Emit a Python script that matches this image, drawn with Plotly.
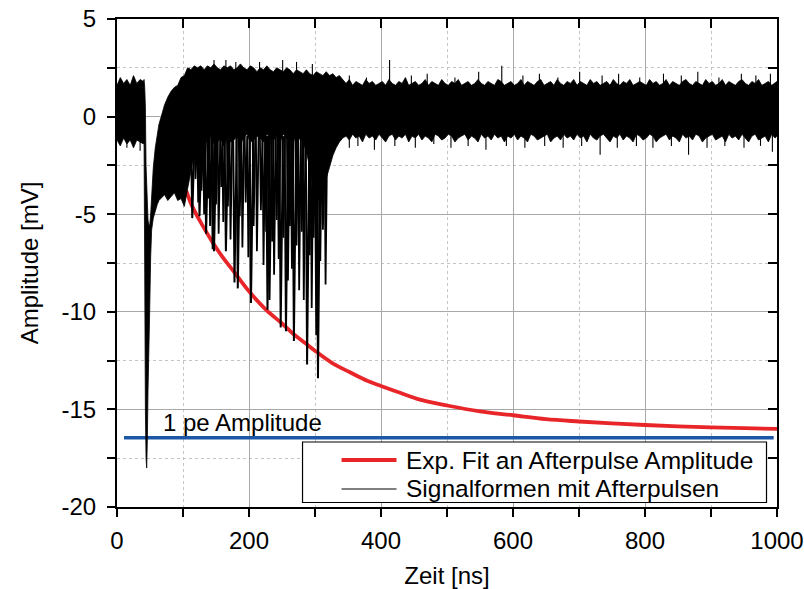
import plotly.graph_objects as go

# ---------------- data ----------------
# envelope of the overlaid waveforms (upper / lower edge of the black band)
t_pre = [0, 5, 10, 15, 20, 25, 30, 35, 40]
u_pre = [1.6, 2.0, 1.7, 1.9, 1.6, 2.1, 1.7, 1.9, 1.8]
l_pre = [-1.2, -1.5, -1.1, -1.4, -1.2, -1.6, -1.2, -1.3, -1.4]

t_pulse = [41, 42, 43, 44, 45, 46, 47, 48, 49.5, 51, 52.5, 55, 58, 61, 63.5]
u_pulse = [1.9, 1.5, 0.5, -2.5, -4.0, -4.8, -5.3, -5.5, -5.6, -5.0, -4.0,
           -2.6, -1.6, -0.9, -0.4]
l_pulse = [-1.3, -8.0, -15.0, -17.5, -18.0, -16.5, -14.0, -12.0, -10.0, -7.2,
           -5.8, -5.2, -4.8, -4.5, -4.3]

t_rec = [67, 72, 77, 82, 87, 92, 97, 102, 107, 112, 117]
u_rec = [0.0, 0.6, 1.0, 1.3, 1.5, 1.6, 2.0, 2.1, 2.5, 2.4, 2.6]
l_rec = [-4.2, -4.0, -4.3, -4.1, -3.9, -4.3, -4.2, -4.6, -3.8, -2.8, -1.9]

t_ap = list(range(122, 343, 5))
u_ap = [2.5, 2.6, 2.4, 2.6, 2.5, 2.7, 2.5, 2.4, 2.6, 2.5,
        2.6, 2.4, 2.5, 2.7, 2.5, 2.4, 2.6, 2.5, 2.3, 2.5,
        2.4, 2.6, 2.4, 2.3, 2.5, 2.4, 2.3, 2.5, 2.4, 2.2,
        2.4, 2.3, 2.2, 2.4, 2.2, 2.1, 2.3, 2.2, 2.1, 2.3,
        2.1, 2.2, 2.0, 2.1, 1.9]
l_ap = [-1.4, -1.1, -1.5, -1.2, -1.0, -1.4, -1.3, -1.1, -1.5, -1.0,
        -1.3, -1.2, -1.0, -1.4, -1.1, -0.9, -1.3, -1.2, -1.0, -1.1,
        -1.3, -0.9, -1.1, -1.2, -1.0, -1.3, -0.9, -1.1, -1.2, -1.0,
        -1.4, -1.1, -1.3, -1.8, -2.6, -3.4, -4.0, -4.3, -3.8, -3.2,
        -2.6, -2.0, -1.6, -1.3, -1.1]

t_tail = list(range(347, 1001, 5)) + [1000]
u_tail = [1.7, 1.9, 1.6, 1.8, 1.7, 1.6, 1.9, 1.7, 1.8, 1.6,
          1.7, 1.8, 1.6, 1.9, 1.7, 1.6, 1.8, 1.7, 2.0, 1.6,
          1.7, 1.8, 1.6, 1.7, 1.9, 1.6, 1.8, 1.7, 1.6, 1.9,
          1.7, 1.6, 1.8, 1.7, 1.9, 1.6, 1.7, 1.8, 1.6, 1.7,
          1.9, 1.7, 1.6, 1.8, 1.7, 1.6, 1.9, 1.8, 1.6, 1.7,
          1.8, 1.6, 1.7, 1.9, 1.6, 1.8, 1.7, 1.6, 1.8, 1.9,
          1.6, 1.7, 1.8, 1.6, 1.9, 1.7, 1.6, 1.8, 1.7, 1.9,
          1.6, 1.8, 1.7, 1.6, 1.9, 1.7, 1.8, 1.6, 1.7, 1.8,
          1.6, 1.9, 1.7, 1.6, 1.8, 1.7, 1.9, 1.6, 1.7, 1.8,
          1.7, 1.6, 1.9, 1.7, 1.8, 1.6, 1.7, 1.9, 1.6, 1.8,
          1.7, 1.6, 1.8, 1.9, 1.7, 1.6, 1.8, 1.7, 1.6, 1.9,
          1.7, 1.8, 1.6, 1.7, 1.9, 1.6, 1.8, 1.7, 1.6, 1.8,
          1.9, 1.7, 1.6, 1.8, 1.7, 1.9, 1.6, 1.7, 1.8, 1.6,
          1.7, 1.8]
l_tail = [-1.0, -1.2, -0.9, -1.1, -1.0, -1.3, -0.9, -1.1, -1.0, -1.2,
          -0.9, -1.1, -1.3, -1.0, -0.9, -1.2, -1.0, -1.1, -0.9, -1.3,
          -1.0, -1.1, -0.9, -1.2, -1.0, -1.1, -1.3, -0.9, -1.0, -1.2,
          -1.1, -0.9, -1.0, -1.3, -1.1, -1.0, -0.9, -1.2, -1.0, -1.1,
          -1.3, -0.9, -1.1, -1.0, -1.2, -0.9, -1.1, -1.0, -1.3, -1.0,
          -1.1, -0.9, -1.2, -1.0, -1.1, -1.3, -0.9, -1.0, -1.2, -1.1,
          -1.0, -0.9, -1.3, -1.1, -1.0, -1.2, -0.9, -1.1, -1.0, -1.2,
          -0.9, -1.1, -1.0, -1.3, -0.9, -1.1, -1.2, -1.0, -0.9, -1.1,
          -1.3, -1.0, -1.1, -0.9, -1.2, -1.0, -1.1, -1.3, -0.9, -1.0,
          -1.2, -1.1, -0.9, -1.0, -1.3, -1.1, -1.0, -0.9, -1.2, -1.0,
          -1.1, -1.3, -0.9, -1.1, -1.0, -1.2, -0.9, -1.0, -1.3, -1.1,
          -1.0, -0.9, -1.2, -1.1, -1.0, -1.3, -0.9, -1.1, -1.0, -1.2,
          -0.9, -1.1, -1.3, -1.0, -0.9, -1.2, -1.1, -1.0, -1.3, -0.9,
          -1.1, -1.0]

# afterpulse dips: time of minimum [ns], minimum amplitude [mV]
dip_t = [114, 125, 135, 145, 147, 165, 178, 183, 203, 228, 231, 248, 256,
         268, 288, 302, 304.5]
dip_y = [-5.2, -5.1, -6.0, -6.8, -6.9, -6.9, -8.5, -8.8, -9.55, -9.9, -9.4,
         -10.8, -11.0, -11.5, -12.7, -11.2, -13.4]
# smaller / partially overlapping afterpulses
sdip_t = [119, 123, 128, 132, 138, 141, 150, 154, 158, 161, 168, 172, 186,
          190, 195, 199, 207, 212, 218, 222, 226, 235, 238, 242, 245, 252,
          259, 262, 265, 272, 276, 280, 283, 292, 295, 298, 308, 312, 316]
sdip_y = [-3.2, -4.4, -3.8, -5.0, -4.2, -5.6, -4.5, -6.0, -3.6, -5.4, -4.6,
          -6.3, -5.1, -6.7, -4.4, -7.2, -5.6, -6.9, -4.8, -7.6, -5.9, -6.4,
          -8.1, -5.3, -7.3, -6.2, -8.4, -5.6, -7.8, -6.6, -8.9, -5.9, -9.4,
          -7.1, -9.8, -6.2, -7.4, -5.8, -8.6]

# noise spikes beyond the band
up_t = [109, 147, 165, 180, 216, 251, 272, 296, 352, 378, 413, 446, 470, 512,
        548, 583, 615, 640, 668, 701, 735, 760, 792, 828, 855, 880, 912, 946,
        968, 990]
up_y = [2.5, 2.9, 2.9, 2.8, 2.8, 2.9, 2.8, 2.7, 2.1, 2.0, 2.9, 2.1, 2.2, 2.0,
        2.3, 2.6, 2.1, 2.2, 2.0, 2.3, 2.1, 2.2, 2.0, 2.2, 2.1, 2.3, 2.0, 2.2,
        2.1, 2.2]
dn_t = [15, 35, 352, 365, 390, 421, 452, 480, 506, 532, 559, 590, 618, 648,
        676, 704, 732, 758, 787, 812, 840, 866, 894, 921, 950, 975, 993]
dn_y = [-1.6, -1.75, -1.6, -1.5, -1.7, -1.5, -1.6, -1.4, -1.6, -1.5, -1.7,
        -1.5, -1.6, -1.5, -1.6, -1.5, -1.95, -1.6, -1.5, -1.6, -1.5, -1.95,
        -1.6, -1.5, -1.6, -1.5, -1.8]

# exponential fit of afterpulse amplitude
fit_t = [105, 114, 130, 145, 160, 175, 200, 226, 250, 266, 285, 302, 325, 353,
         380, 400, 429, 459, 500, 550, 600, 650, 700, 750, 800, 850, 900, 950,
         1000]
fit_y = [-3.8, -4.6, -5.6, -6.45, -7.2, -7.85, -8.95, -9.9, -10.6, -11.1,
         -11.6, -12.05, -12.6, -13.1, -13.55, -13.8, -14.15, -14.5, -14.8,
         -15.1, -15.3, -15.5, -15.62, -15.72, -15.8, -15.87, -15.92, -15.96,
         -16.0]

# 1 pe amplitude level
pe_t = [10.6, 995]
pe_y = [-16.45, -16.45]

x_ticks = [0, 200, 400, 600, 800, 1000]
y_ticks = [5, 0, -5, -10, -15, -20]

# ---------------- figure ----------------
FONT = "Liberation Sans, Arial, sans-serif"
FS = 24

t_all = t_pre + t_pulse + t_rec + t_ap + t_tail
u_all = u_pre + u_pulse + u_rec + u_ap + u_tail
l_all = l_pre + l_pulse + l_rec + l_ap + l_tail
assert len(t_all) == len(u_all) == len(l_all), (len(t_all), len(u_all), len(l_all))

poly_x = t_all + t_all[::-1]
poly_y = u_all + l_all[::-1]


def vees(ts, ys, base_fn, wl, wr):
    xs, yy = [], []
    for t, y in zip(ts, ys):
        b = base_fn(t)
        xs += [t - wl, t, t + wr, None]
        yy += [b, y, b, None]
    return xs, yy


def spikes(ts, ys, base):
    xs, yy = [], []
    for t, y in zip(ts, ys):
        xs += [t, t, None]
        yy += [base, y, None]
    return xs, yy


base = lambda t: -1.0
dx, dy = vees(dip_t, dip_y, base, 2.0, 3.5)
sx, sy = vees(sdip_t, sdip_y, base, 1.5, 2.5)
ux, uy = spikes(up_t, up_y, 1.5)
nx, ny = spikes(dn_t, dn_y, -0.9)

fig = go.Figure()

fig.add_trace(go.Scatter(x=fit_t, y=fit_y, mode="lines",
                         line=dict(color="#e8262a", width=3.8, shape="spline"),
                         name="Exp. Fit an Afterpulse Amplitude",
                         showlegend=False, hoverinfo="skip"))
fig.add_trace(go.Scatter(x=pe_t, y=pe_y, mode="lines",
                         line=dict(color="#1c56a6", width=3.6),
                         showlegend=False, hoverinfo="skip"))
fig.add_trace(go.Scatter(x=poly_x, y=poly_y, mode="lines", fill="toself",
                         fillcolor="black", line=dict(color="black", width=0.8),
                         name="Signalformen mit Afterpulsen",
                         showlegend=False, hoverinfo="skip"))
fig.add_trace(go.Scatter(x=sx, y=sy, mode="lines",
                         line=dict(color="black", width=1.8),
                         showlegend=False, hoverinfo="skip"))
fig.add_trace(go.Scatter(x=dx, y=dy, mode="lines",
                         line=dict(color="black", width=2.0),
                         showlegend=False, hoverinfo="skip"))
fig.add_trace(go.Scatter(x=ux + nx, y=uy + ny, mode="lines",
                         line=dict(color="black", width=1.1),
                         showlegend=False, hoverinfo="skip"))
# invisible trace to activate the mirrored (top/right) axes
fig.add_trace(go.Scatter(x=[0], y=[0], xaxis="x2", yaxis="y2", mode="markers",
                         marker=dict(opacity=0), showlegend=False,
                         hoverinfo="skip"))

grid_major = "#a8a8a8"
grid_minor = "#c4c4c4"

fig.update_layout(
    width=804, height=589,
    margin=dict(l=117, r=27, t=19, b=82, autoexpand=False),
    paper_bgcolor="white", plot_bgcolor="white",
    font=dict(family=FONT, size=FS, color="black"),
    showlegend=False,
    xaxis=dict(
        range=[0, 1000], tickvals=x_ticks, ticktext=[str(v) for v in x_ticks],
        ticks="outside", ticklen=8, tickwidth=1.5, tickcolor="black",
        showline=True, linecolor="black", linewidth=2,
        showgrid=True, gridcolor=grid_major, gridwidth=1,
        zeroline=False, automargin=False,
        minor=dict(dtick=100, tick0=0, ticks="outside", ticklen=8,
                   tickwidth=1.5, tickcolor="black", showgrid=True,
                   gridcolor=grid_minor, griddash="3px,3px", gridwidth=1),
        title=dict(text="Zeit [ns]", standoff=14, font=dict(size=FS)),
        tickfont=dict(size=FS), ticklabelstandoff=3,
    ),
    yaxis=dict(
        range=[-20, 5], tickvals=y_ticks, ticktext=[str(v) for v in y_ticks],
        ticks="outside", ticklen=8, tickwidth=1.5, tickcolor="black",
        showline=True, linecolor="black", linewidth=2,
        showgrid=True, gridcolor=grid_major, gridwidth=1,
        zeroline=False, automargin=False,
        minor=dict(dtick=2.5, tick0=0, ticks="outside", ticklen=8,
                   tickwidth=1.5, tickcolor="black", showgrid=True,
                   gridcolor=grid_minor, griddash="3px,3px", gridwidth=1),
        title=dict(text="Amplitude [mV]", standoff=16, font=dict(size=FS)),
        tickfont=dict(size=FS), ticklabelstandoff=6,
    ),
    xaxis2=dict(
        range=[0, 1000], overlaying="x", side="top", anchor="y",
        dtick=100, tick0=0, ticks="inside", ticklen=9, tickwidth=1.5,
        tickcolor="black", showticklabels=False, showgrid=False,
        showline=True, linecolor="black", linewidth=2, zeroline=False,
        automargin=False,
    ),
    yaxis2=dict(
        range=[-20, 5], overlaying="y", side="right", anchor="x",
        dtick=2.5, tick0=0, ticks="inside", ticklen=9, tickwidth=1.5,
        tickcolor="black", showticklabels=False, showgrid=False,
        showline=True, linecolor="black", linewidth=2, zeroline=False,
        automargin=False,
    ),
)

# "1 pe Amplitude" label
fig.add_annotation(x=67, y=-15.65, xref="x", yref="y", text="1 pe Amplitude",
                   showarrow=False, xanchor="left", yanchor="middle",
                   font=dict(family=FONT, size=FS, color="black"))

# manual legend box (paper coordinates)
fig.add_shape(type="rect", xref="paper", yref="paper",
              x0=0.2811, x1=0.9841, y0=0.0092, y1=0.1332,
              line=dict(color="black", width=1.2), fillcolor="white",
              layer="above")
fig.add_shape(type="line", xref="paper", yref="paper",
              x0=0.3402, x1=0.4235, y0=0.0963, y1=0.0963,
              line=dict(color="#e8262a", width=3.8), layer="above")
fig.add_shape(type="line", xref="paper", yref="paper",
              x0=0.3402, x1=0.4235, y0=0.0369, y1=0.0369,
              line=dict(color="black", width=1.2), layer="above")
fig.add_annotation(x=0.4348, y=0.0963, xref="paper", yref="paper",
                   text="Exp. Fit an Afterpulse Amplitude", showarrow=False,
                   xanchor="left", yanchor="middle",
                   font=dict(family=FONT, size=24.5, color="black"))
fig.add_annotation(x=0.4348, y=0.0369, xref="paper", yref="paper",
                   text="Signalformen mit Afterpulsen", showarrow=False,
                   xanchor="left", yanchor="middle",
                   font=dict(family=FONT, size=24.5, color="black"))

fig.write_html("out.html")
